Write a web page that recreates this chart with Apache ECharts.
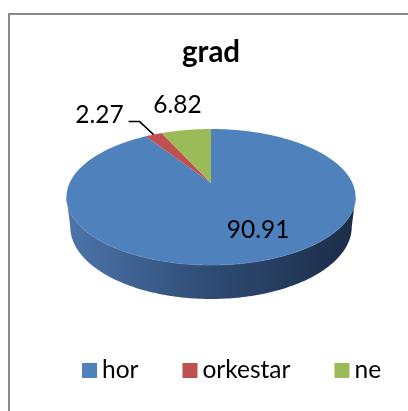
<!DOCTYPE html>
<html><head><meta charset="utf-8">
<script src="https://cdn.jsdelivr.net/npm/echarts@6/dist/echarts.min.js"></script>
<style>html,body{margin:0;padding:0;background:#fff}#c{width:408px;height:411px}</style>
</head><body><div id="c"></div>
<script>
const titleText = 'grad';
const categories = ['hor', 'orkestar', 'ne'];
const values = [90.91, 2.27, 6.82];
const labels = ['90.91', '2.27', '6.82'];

const palette = ['#4f81bd', '#c0504d', '#9bbb59'];
const FONT = 'Lato';
// perspective pie geometry (style)
const G = { cx: 211, cy: 183, F: 609.6, c: 0.8876, s: 0.4606, D: 4.311, h: 0.2385 };
// label placement relative to slice anchor (style)
const labelStyle = [
  { r: 0.6, dx: 20, dy: 5 },
  { r: 1.0, line: [[-14, -13], [-25, -13]], dx: -30, dy: -19.5 },
  { r: 1.0, dx: -8.5, dy: -25 }
];

function proj(theta, r, depth) {
  const X = r * Math.sin(theta), Z = r * Math.cos(theta);
  const d = G.D + Z * G.c + depth * G.s;
  return [G.cx + G.F * X / d, G.cy - G.F * (Z * G.s - depth * G.c) / d];
}
function extremeTheta(depth, from, to, sign) {
  let best = from, bx = sign * Infinity;
  for (let t = from; t <= to; t += 0.001) {
    const x = proj(t, 1, depth)[0];
    if (sign > 0 ? x < bx : x > bx) { bx = x; best = t; }
  }
  return best;
}

const total = values.reduce((a, b) => a + b, 0);

function renderItem(params, api) {
  const i = params.seriesIndex;
  const v = api.value(0);
  let before = 0;
  for (let k = 0; k < i; k++) before += values[k];
  const a0 = before / total * Math.PI * 2;
  const a1 = (before + v) / total * Math.PI * 2;
  const children = [];
  if (i === 0) {
    const tRt = extremeTheta(0, 0, Math.PI, -1);
    const tLt = extremeTheta(0, Math.PI, 2 * Math.PI, 1);
    const tRb = extremeTheta(G.h, 0, Math.PI, -1);
    const tLb = extremeTheta(G.h, Math.PI, 2 * Math.PI, 1);
    const pts = [];
    const N = 160;
    for (let k = 0; k <= N; k++) pts.push(proj(tRt + (tLt - tRt) * k / N, 1, 0));
    for (let k = 0; k <= N; k++) pts.push(proj(tLb + (tRb - tLb) * k / N, 1, G.h));
    children.push({
      type: 'polygon', shape: { points: pts },
      style: {
        fill: new echarts.graphic.LinearGradient(67, 0, 356, 0, [
          { offset: 0, color: '#4c75ab' },
          { offset: 0.5, color: '#2e4b73' },
          { offset: 1, color: '#1b2c46' }
        ], true)
      }
    });
    const edge = [];
    for (let k = 0; k <= N; k++) edge.push(proj(tRt + (tLt - tRt) * k / N, 1, 0));
    children.push({ type: 'polyline', shape: { points: edge }, style: { stroke: 'rgba(120,155,205,0.6)', lineWidth: 1, fill: null } });
  }
  const top = [proj(0, 0, 0)];
  const steps = Math.max(4, Math.ceil((a1 - a0) / 0.01));
  for (let k = 0; k <= steps; k++) top.push(proj(a0 + (a1 - a0) * k / steps, 1, 0));
  children.push({ type: 'polygon', shape: { points: top }, style: { fill: palette[i] } });

  const ls = labelStyle[i];
  const mid = (a0 + a1) / 2;
  const p = proj(mid, ls.r, 0);
  if (ls.line) {
    const lp = [p].concat(ls.line.map(o => [p[0] + o[0], p[1] + o[1]]));
    children.push({ type: 'polyline', shape: { points: lp }, style: { stroke: '#000', lineWidth: 1.5, fill: null } });
  }
  children.push({
    type: 'text', x: p[0] + ls.dx, y: p[1] + ls.dy,
    style: { text: labels[i], fill: '#000', fontSize: 24.5, fontFamily: FONT, align: ls.line ? 'right' : 'center', verticalAlign: 'middle' }
  });
  return { type: 'group', children };
}

const chart = echarts.init(document.getElementById('c'), null, { renderer: 'canvas' });
chart.setOption({
  animation: false,
  title: {
    text: titleText, left: 177, top: 32,
    textStyle: { fontFamily: FONT, fontWeight: 'bold', fontSize: 29.5, color: '#000' }
  },
  legend: {
    data: categories, left: 77, top: 353, icon: 'rect', itemWidth: 15, itemHeight: 15, itemGap: 44,
    textStyle: { fontFamily: FONT, fontSize: 24.5, color: '#000' }
  },
  graphic: [{
    type: 'rect', shape: { x: 9, y: 14, width: 600, height: 600 },
    style: { fill: null, stroke: '#8a8a8a', lineWidth: 2 }, silent: true, z: -1
  }],
  series: categories.map((name, i) => ({
    type: 'custom', name, coordinateSystem: 'none',
    itemStyle: { color: palette[i] },
    renderItem, data: [[values[i]]]
  }))
});
</script></body></html>
